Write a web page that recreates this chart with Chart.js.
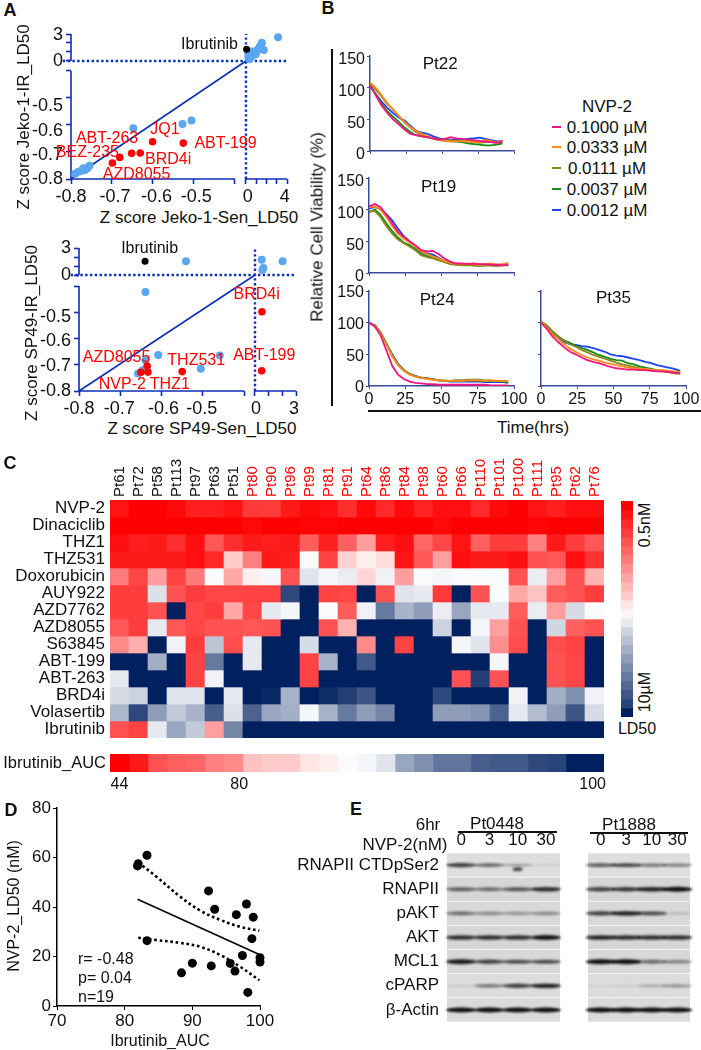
<!DOCTYPE html>
<html>
<head>
<meta charset="utf-8">
<script src="https://cdn.jsdelivr.net/npm/chart.js@4/dist/chart.umd.js"></script>
<style>
  html, body { margin: 0; background: #fff; }
  #page { position: relative; width: 701px; height: 1050px; overflow: hidden; font-family: "Liberation Sans", Arial, sans-serif; color: #111; }
  #page canvas { position: absolute; }
  .txt { position: absolute; white-space: nowrap; line-height: 1; }
  .rule { position: absolute; }
</style>
</head>
<body>
<div id="page"></div>
<script>
// Panel A, Jeko-1
const jekoBlueX = [3.13, 1.55, 1.74, 1.35, 1.03, 0.7, 0.45, 0.97, 0.55, 0.32, 0.23, 1.2, -0.648, -0.528, -0.506, -0.79, -0.782, -0.774, -0.766, -0.76, -0.755, -0.77];
const jekoBlueY = [2.63, 2.04, 1.22, 1.6, 1.04, 1.04, 1.04, 0.74, 0.48, 0.19, 0.67, 1.3, -0.612, -0.596, -0.583, -0.781, -0.773, -0.769, -0.767, -0.76, -0.751, -0.76];
const jekoRedX = [-0.699, -0.681, -0.652, -0.631, -0.601, -0.526];
const jekoRedY = [-0.741, -0.72, -0.705, -0.704, -0.662, -0.667];
const jekoBlackX = [0.06];
const jekoBlackY = [1.3];
const jekoLabels = [
  { text: "ABT-263", x: -0.712, y: -0.649, color: "#ff0000" },
  { text: "JQ1", x: -0.571, y: -0.616, color: "#ff0000" },
  { text: "ABT-199", x: -0.423, y: -0.67, color: "#ff0000" },
  { text: "BEZ-235", x: -0.76, y: -0.702, color: "#ff0000" },
  { text: "BRD4i", x: -0.563, y: -0.727, color: "#ff0000" },
  { text: "AZD8055", x: -0.64, y: -0.783, color: "#ff0000" },
  { text: "Ibrutinib", x: -0.462, y: 1.78, color: "#111" }
];

// Panel A, SP49
const spBlueX = [-0.541, 0.49, 2.02, 0.61, 0.54, -0.639, -0.608, -0.459, -0.639, -0.505, -0.657, -0.646];
const spBlueY = [1.52, 1.7, 1.52, 0.78, 0.56, -0.423, -0.663, -0.665, -0.683, -0.715, -0.733, -0.721];
const spRedX = [0.51, 0.49, -0.55, -0.65, -0.635, -0.633];
const spRedY = [-0.498, -0.723, -0.726, -0.729, -0.705, -0.728];
const spBlackX = [-0.64];
const spBlackY = [1.52];
const spLabels = [
  { text: "BRD4i", x: 0.12, y: -0.433, color: "#ff0000" },
  { text: "ABT-199", x: 0.68, y: -0.664, color: "#ff0000" },
  { text: "AZD8055", x: -0.709, y: -0.673, color: "#ff0000" },
  { text: "THZ531", x: -0.516, y: -0.683, color: "#ff0000" },
  { text: "NVP-2", x: -0.695, y: -0.775, color: "#ff0000" },
  { text: "THZ1", x: -0.58, y: -0.777, color: "#ff0000" },
  { text: "Ibrutinib", x: -0.629, y: 2.93, color: "#111" }
];

// Panel B
const hours = [0, 4, 8, 12, 16, 20, 24, 28, 32, 36, 40, 44, 48, 52, 56, 60, 64, 68, 72, 76, 80, 84, 88, 92, 96];
const doseNames = ["0.1000 µM", "0.0333 µM", "0.0111 µM", "0.0037 µM", "0.0012 µM"];
const doseColors = ["#f2157f", "#ff8a1c", "#87871a", "#168a1e", "#1a45f0"];
const pt22 = [
  [104, 88, 72, 60, 50, 42, 34, 27, 25, 23, 22, 20, 18, 19, 22, 20, 19, 18, 17, 16, 15, 14, 13, 15],
  [108, 100, 88, 76, 65, 56, 46, 38, 32, 27, 23, 20, 17, 16, 15, 15, 16, 15, 14, 14, 17, 16, 13, 17],
  [106, 97, 86, 74, 66, 55, 45, 37, 30, 25, 22, 19, 17, 16, 17, 16, 15, 15, 14, 13, 14, 14, 13, 16],
  [103, 90, 74, 63, 54, 46, 37, 30, 25, 23, 22, 20, 18, 17, 16, 15, 14, 12, 11, 10, 9, 9, 10, 12],
  [102, 90, 78, 68, 60, 53, 48, 40, 32, 29, 27, 23, 20, 18, 18, 18, 17, 19, 20, 21, 19, 17, 15, 16]
];
const pt19 = [
  [105, 109, 104, 92, 78, 65, 57, 50, 44, 36, 34, 35, 30, 23, 18, 15, 15, 14, 15, 14, 14, 13, 13, 12, 13],
  [104, 105, 100, 88, 74, 62, 54, 48, 42, 34, 30, 26, 23, 19, 16, 15, 14, 15, 14, 13, 14, 15, 13, 14, 16],
  [97, 98, 88, 74, 62, 53, 47, 42, 36, 28, 25, 23, 20, 17, 14, 13, 12, 12, 12, 11, 12, 12, 11, 12, 12],
  [96, 100, 92, 78, 66, 56, 48, 44, 38, 30, 27, 25, 22, 18, 15, 14, 13, 13, 12, 12, 12, 12, 12, 12, 13],
  [102, 104, 101, 93, 83, 70, 58, 50, 42, 33, 31, 29, 24, 19, 16, 14, 14, 14, 13, 13, 13, 13, 13, 13, 14]
];
const pt24 = [
  [100, 94, 80, 56, 32, 18, 11, 7, 5, 4, 3, 3, 2, 2, 2, 2, 2, 2, 2, 2, 2, 1, 1, 1, 1],
  [99, 95, 83, 65, 47, 33, 24, 18, 15, 13, 11, 10, 9, 8, 8, 8, 8, 9, 9, 9, 8, 9, 8, 8, 8],
  [99, 96, 84, 66, 48, 34, 25, 19, 15, 13, 12, 10, 9, 9, 8, 9, 9, 10, 10, 10, 9, 9, 8, 8, 7],
  [99, 96, 84, 67, 49, 34, 25, 19, 15, 13, 12, 11, 9, 8, 8, 9, 9, 9, 9, 8, 8, 8, 8, 7, 6],
  [100, 96, 85, 67, 50, 35, 25, 19, 16, 13, 12, 11, 9, 8, 7, 7, 7, 7, 7, 7, 6, 6, 6, 6, 5]
];
const pt35 = [
  [100, 90, 78, 69, 61, 54, 50, 45, 41, 38, 36, 33, 30, 28, 27, 26, 26, 25, 25, 24, 23, 23, 22, 21, 20],
  [102, 92, 82, 74, 66, 59, 54, 49, 45, 42, 40, 37, 35, 33, 31, 29, 28, 27, 27, 26, 25, 25, 24, 23, 22],
  [102, 96, 86, 78, 71, 66, 62, 57, 53, 49, 46, 43, 40, 37, 34, 32, 30, 28, 27, 26, 24, 23, 22, 20, 19],
  [101, 95, 86, 78, 72, 68, 63, 60, 57, 53, 49, 46, 43, 41, 40, 36, 34, 31, 29, 27, 25, 24, 23, 21, 20],
  [102, 93, 84, 76, 69, 66, 65, 63, 62, 60, 57, 54, 50, 48, 47, 45, 43, 41, 38, 36, 33, 31, 29, 27, 24]
];

// Panel C, level 0 = red, 50 = white, 100 = navy
const patients = ["Pt61", "Pt72", "Pt58", "Pt113", "Pt97", "Pt63", "Pt51", "Pt80", "Pt90", "Pt96", "Pt99", "Pt81", "Pt91", "Pt64", "Pt86", "Pt84", "Pt98", "Pt60", "Pt66", "Pt110", "Pt101", "Pt100", "Pt111", "Pt95", "Pt62", "Pt76"];
const blackPatients = 7;
const drugs = ["NVP-2", "Dinaciclib", "THZ1", "THZ531", "Doxorubicin", "AUY922", "AZD7762", "AZD8055", "S63845", "ABT-199", "ABT-263", "BRD4i", "Volasertib", "Ibrutinib"];
const nvp2 = [4, 0, 0, 2, 6, 6, 4, 11, 12, 5, 2, 3, 9, 2, 8, 2, 7, 3, 3, 8, 2, 0, 4, 6, 3, 3];
const dinaciclib = [0, 0, 0, 0, 0, 0, 0, 2, 0, 0, 1, 1, 0, 0, 0, 0, 0, 2, 0, 0, 0, 0, 1, 0, 0, 0];
const thz1 = [3, 6, 5, 9, 3, 17, 9, 5, 6, 5, 18, 6, 19, 31, 6, 3, 20, 14, 4, 19, 12, 12, 25, 5, 12, 17];
const thz531 = [5, 5, 5, 5, 3, 8, 40, 25, 5, 6, 49, 13, 41, 47, 43, 4, 17, 31, 3, 5, 5, 3, 16, 17, 3, 10];
const doxorubicin = [24, 14, 31, 13, 24, 51, 33, 47, 52, 16, 56, 52, 54, 42, 53, 31, 51, 52, 51, 51, 51, 16, 54, 31, 16, 35];
const auy922 = [12, 12, 57, 16, 12, 14, 14, 13, 13, 91, 100, 13, 14, 100, 16, 56, 55, 11, 100, 16, 51, 33, 38, 18, 16, 12];
const azd7762 = [12, 12, 16, 100, 14, 12, 33, 14, 55, 52, 100, 51, 18, 53, 80, 67, 72, 54, 70, 55, 55, 18, 54, 31, 58, 51];
const azd8055 = [17, 12, 55, 17, 14, 16, 16, 17, 16, 100, 100, 16, 35, 100, 100, 100, 100, 60, 100, 52, 31, 16, 100, 59, 19, 16];
const s63845 = [27, 34, 100, 53, 12, 63, 15, 55, 100, 100, 58, 100, 100, 27, 100, 13, 100, 100, 52, 56, 28, 15, 100, 15, 13, 100];
const abt199 = [100, 100, 68, 100, 13, 80, 100, 55, 100, 100, 13, 67, 100, 87, 100, 100, 100, 100, 100, 100, 52, 100, 100, 16, 14, 100];
const abt263 = [55, 100, 100, 100, 13, 53, 100, 100, 100, 100, 13, 100, 100, 100, 100, 100, 100, 100, 16, 93, 16, 100, 100, 16, 14, 100];
const brd4i = [58, 60, 100, 56, 56, 100, 55, 100, 98, 67, 100, 97, 93, 88, 100, 100, 100, 91, 100, 100, 100, 53, 100, 68, 75, 53];
const volasertib = [66, 91, 72, 62, 67, 86, 57, 85, 70, 68, 52, 67, 80, 72, 77, 100, 100, 72, 72, 74, 85, 55, 65, 72, 88, 58];
const ibrutinib = [16, 13, 55, 70, 62, 31, 77, 100, 100, 100, 100, 100, 100, 100, 100, 100, 100, 100, 100, 100, 100, 100, 100, 100, 100, 100];
const heatRows = [nvp2, dinaciclib, thz1, thz531, doxorubicin, auy922, azd7762, azd8055, s63845, abt199, abt263, brd4i, volasertib, ibrutinib];
const aucLevels = [0, 5, 16, 19, 20, 25, 27, 38, 40, 40, 45, 47, 51, 52, 56, 70, 75, 81, 81, 86, 87, 87, 91, 92, 100, 100];
const aucTickValues = [0.5, 6.8, 25.4];
const aucTickLabels = ["44", "80", "100"];
const colorbarLevels = [0, 4, 8, 12, 16, 20, 24, 28, 32, 36, 40, 45, 48, 55, 60, 64, 68, 72, 76, 80, 84, 88, 92, 100];

// Panel D
const auc = [81.9, 82, 83.3, 83.3, 88.4, 90, 92.4, 92.8, 93.3, 95.6, 96.3, 96.5, 97.4, 98, 98.2, 98.8, 99, 100, 100];
const ld50 = [56.6, 57.5, 60.9, 26.4, 13.4, 17.3, 46.5, 16.2, 39.1, 17.2, 14.1, 36.9, 20.4, 41.2, 5.5, 27.2, 35.9, 19.5, 17.8];
const fitX = [81.9, 99.9];
const fitY = [43.1, 20.8];
const bandX = [82, 84.8, 88.2, 91.2, 94.2, 97.1, 99.9];
const upperBand = [58, 52, 44.2, 38.5, 34.7, 32, 30.4];
const lowerBand = [27.6, 26.6, 25.5, 23.9, 20.5, 15.8, 10.4];

// Panel E, band strength 0 to 1
const blotRows = ["RNAPII CTDpSer2", "RNAPII", "pAKT", "AKT", "MCL1", "cPARP", "β-Actin"];
const lanes = ["0", "3", "10", "30"];
const pt0448Bands = [
  [0.75, 0.55, 0.3, 0.08],
  [0.6, 0.55, 0.65, 0.85],
  [0.55, 0.4, 0.35, 0.4],
  [0.85, 0.85, 0.85, 1],
  [0.95, 0.75, 0.7, 0.7],
  [0.1, 0.5, 0.75, 0.9],
  [1, 1, 1, 1]
];
const pt1888Bands = [
  [0.6, 0.7, 0.5, 0.45],
  [0.75, 0.8, 0.9, 1],
  [0.75, 0.9, 0.7, 0.15],
  [0.9, 0.85, 0.85, 0.85],
  [1, 1, 0.55, 0.45],
  [0.05, 0.06, 0.25, 0.35],
  [1, 1, 1, 1]
];
const pt0448Smudge = [null, null, 0.67, null];
const rowGrays = ["#dedede", "#d6d6d6", "#d8d8d8", "#d6d6d6", "#d8d8d8", "#dcdcdc", "#dadada"];

const page = document.getElementById("page");
const FONT = '"Liberation Sans", Arial, sans-serif';
const AXIS_BLUE = "#0d2fb8";
const B_AXIS = "#3a4a9a";
Chart.defaults.font.family = FONT;
Chart.defaults.color = "#111";
Chart.defaults.animation = false;
Chart.defaults.responsive = false;
Chart.defaults.maintainAspectRatio = false;
Chart.defaults.plugins.legend.display = false;
Chart.defaults.plugins.tooltip.enabled = false;

// Axis with a break in it: breaks.values map onto breaks.fractions of its length
class BrokenScale extends Chart.LinearScale {
  static id = "broken";
  static defaults = Chart.LinearScale.defaults;
  buildTicks() {
    this.start = this.min;
    this.end = this.max;
    return Array.from(this.options.tickValues).map(value => ({ value }));
  }
  getPixelForValue(v) {
    const vals = this.options.breaks.values, fr = this.options.breaks.fractions;
    let i = 0;
    while (i < vals.length - 2 && v > vals[i + 1]) i++;
    return this.getPixelForDecimal(fr[i] + (v - vals[i]) / (vals[i + 1] - vals[i]) * (fr[i + 1] - fr[i]));
  }
  // the tick labels sit slightly off their ticks in the figure
  _computeLabelItems(area) {
    const items = super._computeLabelItems(area);
    const shift = this.options.labelShift || {};
    const k = this.isHorizontal() ? 0 : 1;
    items.forEach(it => { it.options.translation[k] += shift[it.label] || 0; });
    return items;
  }
}
Chart.register(BrokenScale);

// Text placed at data coordinates
Chart.register({
  id: "valueLabels",
  afterDatasetsDraw(chart, args, opts) {
    if (!opts.items) return;
    const c = chart.ctx;
    c.save();
    c.font = opts.size + "px " + FONT;
    c.textBaseline = "middle";
    c.textAlign = opts.align || "center";
    for (const it of opts.items) {
      c.fillStyle = it.color || "#111";
      c.fillText(it.text, chart.scales.x.getPixelForValue(it.x), chart.scales.y.getPixelForValue(it.y));
    }
    c.restore();
  }
});

function canvasAt(x, y, w, h) {
  const cv = document.createElement("canvas");
  cv.width = w;
  cv.height = h;
  cv.style.left = x + "px";
  cv.style.top = y + "px";
  cv.style.width = w + "px";
  cv.style.height = h + "px";
  page.appendChild(cv);
  return cv;
}

function text(str, x, y, o = {}) {
  const d = document.createElement("div");
  d.className = "txt";
  d.textContent = str;
  d.style.left = x + "px";
  d.style.top = y + "px";
  d.style.fontSize = (o.size || 17) + "px";
  if (o.bold) d.style.fontWeight = "bold";
  d.style.transform = "translate(-50%,-50%)" + (o.rotate ? " rotate(" + o.rotate + "deg)" : "");
  page.appendChild(d);
}

function rule(x, y, w, h, color) {
  const d = document.createElement("div");
  d.className = "rule";
  d.style.cssText = "left:" + x + "px;top:" + y + "px;width:" + w + "px;height:" + h + "px;background:" + (color || "#111");
  page.appendChild(d);
}

// keeps an axis at a fixed thickness so the plot lands where it should
function fixedSize(size) {
  return s => {
    if (s.isHorizontal()) s.height = size; else s.width = size;
    s.paddingLeft = s.paddingRight = s.paddingTop = s.paddingBottom = 0;
  };
}

function zip(xs, ys) { return xs.map((x, i) => ({ x, y: ys[i] })); }

function levelColor(v) {
  if (v <= 50) {
    const g = Math.round(255 * v / 50);
    return "rgb(255," + g + "," + g + ")";
  }
  const t = (v - 50) / 50;
  return "rgb(" + Math.round(255 * (1 - t)) + "," + Math.round(255 - 223 * t) + "," + Math.round(255 - 160 * t) + ")";
}

// ---- Panel A ----
function zScorePlot(box, d) {
  const seg = (pts, width, dash) => ({ data: pts, showLine: true, pointRadius: 0, borderColor: AXIS_BLUE, borderWidth: width, borderDash: dash || [], clip: false });
  const dots = (xs, ys, color, r) => ({ data: zip(xs, ys), pointRadius: r, backgroundColor: color, borderWidth: 0, clip: false });
  return new Chart(canvasAt(box.x, box.y, box.w, box.h), {
    type: "scatter",
    data: {
      datasets: [
        dots(d.blackX, d.blackY, "#000", 3.5),
        dots(d.redX, d.redY, "#ff0000", 3.8),
        dots(d.blueX, d.blueY, "#5aa6f0", 4),
        seg([{ x: -0.8, y: -0.8 }, { x: 0, y: 0 }], 1.6),
        seg([{ x: -0.82, y: 0 }, { x: d.xMax, y: 0 }], 2.4, [2.4, 2.4]),
        seg([{ x: 0, y: -0.8 }, { x: 0, y: 3 }], 2.4, [2.4, 2.4]),
        seg([{ x: -0.8, y: -0.8 }, { x: -0.4, y: -0.8 }], 1.6),
        seg([{ x: 0, y: -0.8 }, { x: d.xMax, y: -0.8 }], 1.6),
        seg([{ x: -0.8, y: -0.8 }, { x: -0.8, y: -0.4 }], 1.6),
        seg([{ x: -0.8, y: 0 }, { x: -0.8, y: 3 }], 1.6)
      ]
    },
    options: {
      layout: { padding: { top: box.top, right: box.right } },
      plugins: { valueLabels: { items: d.labels, size: 16 } },
      scales: {
        x: {
          type: "broken", min: -0.8, max: d.xMax,
          breaks: { values: [-0.8, -0.4, 0, d.xMax], fractions: d.xFrac },
          tickValues: d.xTicks, labelShift: d.xShift,
          border: { display: false },
          grid: { drawOnChartArea: false, tickLength: 5, tickColor: AXIS_BLUE, tickWidth: 1.6 },
          ticks: { autoSkip: false, maxRotation: 0, padding: 2, font: { size: 18 }, callback: v => d.xLabels[d.xTicks.indexOf(v)] },
          afterFit: fixedSize(box.bottom)
        },
        y: {
          type: "broken", min: -0.8, max: 3,
          breaks: { values: [-0.8, -0.4, 0, 3], fractions: d.yFrac },
          tickValues: d.yTicks, labelShift: d.yShift,
          border: { display: false },
          grid: { drawOnChartArea: false, tickLength: 5, tickColor: AXIS_BLUE, tickWidth: 1.6 },
          ticks: { autoSkip: false, padding: 3, font: { size: 18 }, callback: v => d.yLabels[d.yTicks.indexOf(v)] },
          afterFit: fixedSize(box.left)
        }
      }
    }
  });
}

const yTicksA = [-0.8, -0.7, -0.6, -0.5, -0.4, 0, 1, 2, 3];
const yLabelsA = ["-0.8", "-0.7", "-0.6", "-0.5", "", "0", "", "", "3"];

zScorePlot({ x: 0, y: 20, w: 303, h: 183, left: 71, top: 14, right: 16, bottom: 24 }, {
  blueX: jekoBlueX, blueY: jekoBlueY, redX: jekoRedX, redY: jekoRedY, blackX: jekoBlackX, blackY: jekoBlackY,
  labels: jekoLabels, xMax: 4,
  xFrac: [0, 0.759, 0.81, 1], yFrac: [0, 0.745, 0.814, 1],
  xTicks: [-0.8, -0.7, -0.6, -0.5, -0.4, 0, 1, 2, 3, 4],
  xLabels: ["-0.8", "-0.7", "-0.6", "-0.5", "", "0", "", "", "", "4"],
  yTicks: yTicksA, yLabels: yLabelsA,
  xShift: { "-0.7": 3, "-0.6": 3.5, "-0.5": 2.3, "0": 1.7, "4": -2.3 },
  yShift: { "-0.5": 7.7, "-0.6": 5.7, "-0.7": 3, "3": 1 }
});

zScorePlot({ x: 0, y: 235, w: 312, h: 180, left: 79, top: 13, right: 16, bottom: 24 }, {
  blueX: spBlueX, blueY: spBlueY, redX: spRedX, redY: spRedY, blackX: spBlackX, blackY: spBlackY,
  labels: spLabels, xMax: 3,
  xFrac: [0, 0.761, 0.811, 1], yFrac: [0, 0.734, 0.811, 1],
  xTicks: [-0.8, -0.7, -0.6, -0.5, -0.4, 0, 1, 2, 3],
  xLabels: ["-0.8", "-0.7", "-0.6", "-0.5", "", "0", "", "", "3"],
  yTicks: yTicksA, yLabels: yLabelsA,
  xShift: { "-0.7": -1, "-0.6": 2, "-0.5": -1, "0": 1, "3": -2 },
  yShift: { "-0.5": 4.7, "-0.6": 3, "-0.7": 1 }
});

text("A", 10, 10, { bold: true, size: 18 });
text("Z score Jeko-1-IR_LD50", 23, 117, { rotate: -90 });
text("Z score Jeko-1-Sen_LD50", 199, 217);
text("Z score SP49-IR_LD50", 31, 333, { rotate: -90 });
text("Z score SP49-Sen_LD50", 202, 428);

// ---- Panel B ----
function viabilityPlot(box, series, title, opts) {
  return new Chart(canvasAt(box.x, box.y, box.w, box.h), {
    type: "line",
    data: {
      datasets: series.map((vals, i) => ({
        data: vals.map((v, k) => ({ x: hours[k], y: v })),
        borderColor: doseColors[i], borderWidth: 1.8, pointRadius: 0
      }))
    },
    options: {
      layout: { padding: { top: box.top, right: box.right } },
      plugins: { valueLabels: { items: [title], size: 17 } },
      scales: {
        x: {
          type: "linear", min: 0, max: 100,
          border: { color: B_AXIS, width: 1.5 },
          grid: { drawOnChartArea: false, tickLength: 3, tickColor: B_AXIS },
          ticks: { stepSize: 25, maxRotation: 0, padding: 1, font: { size: 16 }, display: !!opts.xLabels },
          afterFit: fixedSize(opts.xLabels ? 24 : 10)
        },
        y: {
          min: 0, max: 150,
          border: { color: B_AXIS, width: 1.5 },
          grid: { drawOnChartArea: false, tickLength: 3, tickColor: B_AXIS },
          ticks: { stepSize: 50, padding: 2, font: { size: 16 }, display: opts.yLabels, labelOffset: opts.nudge || 0 },
          afterFit: fixedSize(box.left)
        }
      }
    }
  });
}

viabilityPlot({ x: 335, y: 48, w: 195, h: 113, left: 35, top: 8, right: 16 }, pt22, { text: "Pt22", x: 48.7, y: 137 }, { yLabels: true, nudge: 4 });
viabilityPlot({ x: 335, y: 170, w: 195, h: 113, left: 34, top: 8, right: 16 }, pt19, { text: "Pt19", x: 48, y: 135 }, { yLabels: true, nudge: 4 });
viabilityPlot({ x: 335, y: 283, w: 195, h: 127, left: 34, top: 8, right: 16 }, pt24, { text: "Pt24", x: 47, y: 136 }, { yLabels: true, xLabels: true, nudge: 2 });
viabilityPlot({ x: 532, y: 283, w: 169, h: 127, left: 9, top: 8, right: 15 }, pt35, { text: "Pt35", x: 50, y: 138 }, { yLabels: false, xLabels: true });

rule(331, 49, 2, 357);
rule(368, 410, 333, 2);
text("B", 328, 8, { bold: true, size: 18 });
text("Relative Cell Viability (%)", 317, 227, { rotate: -90 });
text("Time(hrs)", 533, 427);
text("NVP-2", 607, 106);
doseNames.forEach((name, i) => {
  const y = [127, 147, 168, 189, 210][i];
  rule(552, y - 1, 9, 2, doseColors[i]);
  text(name, 607, y);
});

// ---- Panel C ----
new Chart(canvasAt(0, 455, 604, 283), {
  type: "bar",
  data: {
    labels: patients,
    datasets: heatRows.map((row, i) => ({
      label: drugs[i],
      data: row.map(() => 1),
      backgroundColor: row.map(levelColor),
      barPercentage: 1, categoryPercentage: 1, borderWidth: 0
    }))
  },
  options: {
    scales: {
      x: {
        stacked: true, position: "top",
        border: { display: false }, grid: { display: false, drawTicks: false },
        ticks: {
          autoSkip: false, minRotation: 90, maxRotation: 90, padding: 3, labelOffset: 18, font: { size: 15 },
          color: ctx => ctx.index < blackPatients ? "#111" : "#ff0000"
        },
        afterFit: fixedSize(45)
      },
      y: {
        stacked: true, reverse: true, min: 0, max: drugs.length,
        border: { display: false }, grid: { display: false, drawTicks: false },
        afterBuildTicks: s => { s.ticks = drugs.map((_, i) => ({ value: i + 0.5 })); },
        ticks: { autoSkip: false, padding: 5, font: { size: 17 }, callback: v => drugs[v - 0.5] },
        afterFit: fixedSize(110)
      }
    }
  }
});

new Chart(canvasAt(0, 754, 616, 42), {
  type: "bar",
  data: {
    labels: ["Ibrutinib_AUC"],
    datasets: aucLevels.map(v => ({
      data: [1], backgroundColor: levelColor(v), barPercentage: 1, categoryPercentage: 1, borderWidth: 0
    }))
  },
  options: {
    indexAxis: "y",
    layout: { padding: { right: 12 } },
    scales: {
      x: {
        stacked: true, min: 0, max: aucLevels.length,
        border: { display: false }, grid: { display: false, drawTicks: false },
        afterBuildTicks: s => { s.ticks = aucTickValues.map(value => ({ value })); },
        ticks: { autoSkip: false, maxRotation: 0, padding: 3, font: { size: 16 }, callback: v => aucTickLabels[aucTickValues.indexOf(v)] },
        afterFit: fixedSize(24)
      },
      y: {
        stacked: true,
        border: { display: false }, grid: { display: false, drawTicks: false },
        ticks: { padding: 4, font: { size: 16.5 } },
        afterFit: fixedSize(110)
      }
    }
  }
});

new Chart(canvasAt(621, 501, 12, 216), {
  type: "bar",
  data: {
    labels: ["LD50"],
    datasets: colorbarLevels.map(v => ({
      data: [1], backgroundColor: levelColor(v), barPercentage: 1, categoryPercentage: 1, borderWidth: 0
    }))
  },
  options: {
    scales: {
      x: { display: false, stacked: true },
      y: { display: false, stacked: true, reverse: true, min: 0, max: colorbarLevels.length }
    }
  }
});

text("C", 10, 463, { bold: true, size: 18 });
text("0.5nM", 645, 525, { rotate: -90, size: 16 });
text("10µM", 645, 692, { rotate: -90, size: 16 });
text("LD50", 637, 729, { size: 16 });

// ---- Panel D ----
new Chart(canvasAt(0, 795, 276, 235), {
  type: "scatter",
  data: {
    datasets: [
      { data: zip(auc, ld50), pointRadius: 4.5, backgroundColor: "#000", borderWidth: 0, clip: false },
      { data: zip(fitX, fitY), showLine: true, pointRadius: 0, borderColor: "#000", borderWidth: 1.6 },
      { data: zip(bandX, upperBand), showLine: true, pointRadius: 0, borderColor: "#000", borderWidth: 2.6, borderDash: [2.6, 2.8], tension: 0.4 },
      { data: zip(bandX, lowerBand), showLine: true, pointRadius: 0, borderColor: "#000", borderWidth: 2.6, borderDash: [2.6, 2.8], tension: 0.4 }
    ]
  },
  options: {
    layout: { padding: { top: 13, right: 16 } },
    plugins: {
      valueLabels: {
        size: 16, align: "left",
        items: [
          { text: "r= -0.48", x: 73.1, y: 18.9 },
          { text: "p= 0.04", x: 73.1, y: 11.1 },
          { text: "n=19", x: 73.1, y: 3.4 }
        ]
      }
    },
    scales: {
      x: {
        min: 70, max: 100,
        border: { color: "#000", width: 1.5 },
        grid: { drawOnChartArea: false, tickLength: 4, tickColor: "#000" },
        ticks: { stepSize: 10, maxRotation: 0, padding: 1, font: { size: 17 } },
        afterFit: fixedSize(24)
      },
      y: {
        min: 0, max: 80,
        border: { color: "#000", width: 1.5 },
        grid: { drawOnChartArea: false, tickLength: 4, tickColor: "#000" },
        ticks: { stepSize: 20, padding: 2, font: { size: 17 } },
        afterFit: fixedSize(57)
      }
    }
  }
});
text("D", 11, 810, { bold: true, size: 18 });
text("NVP-2_LD50 (nM)", 14, 906, { rotate: -90, size: 16 });
text("Ibrutinib_AUC", 160, 1041, { size: 16 });

// ---- Panel E ----
function bandSprite(strength, wide) {
  const cv = document.createElement("canvas");
  cv.width = 36;
  cv.height = 16;
  const c = cv.getContext("2d");
  c.filter = "blur(1px)";
  c.fillStyle = "rgba(15,15,15," + strength + ")";
  c.beginPath();
  c.ellipse(18, 8, wide, 1.2 + 1.3 * strength, 0, 0, Math.PI * 2);
  c.fill();
  return cv;
}

function blot(box, bands, withRowLabels, smudge) {
  const datasets = [];
  bands.forEach((row, r) => {
    datasets.push({
      type: "line", order: 0, showLine: false,
      data: lanes.map(() => r + 0.5),
      pointStyle: row.map(s => bandSprite(s, 15)),
      pointRadius: 10
    });
    datasets.push({
      type: "bar", order: 1, grouped: false,
      data: lanes.map(() => [r + 0.03, r + 0.97]),
      backgroundColor: rowGrays[r], barPercentage: 1, categoryPercentage: 1, borderWidth: 0
    });
  });
  if (smudge) {
    datasets.push({ type: "line", order: 0, showLine: false, data: smudge, pointStyle: bandSprite(0.7, 5), pointRadius: 10 });
  }
  return new Chart(canvasAt(box.x, box.y, box.w, box.h), {
    data: { labels: lanes, datasets },
    options: {
      scales: {
        x: {
          position: "top",
          border: { display: false }, grid: { display: false, drawTicks: false },
          ticks: { maxRotation: 0, autoSkip: false, padding: 2, font: { size: 17 } },
          afterFit: fixedSize(28)
        },
        y: {
          display: withRowLabels,
          reverse: true, min: 0, max: blotRows.length,
          border: { display: false }, grid: { display: false, drawTicks: false },
          afterBuildTicks: s => { s.ticks = blotRows.map((_, i) => ({ value: i + 0.5 })); },
          ticks: { autoSkip: false, padding: 8, font: { size: 17 }, callback: v => blotRows[v - 0.5] },
          afterFit: fixedSize(box.left)
        }
      }
    }
  });
}

blot({ x: 290, y: 825, w: 281, h: 208, left: 157 }, pt0448Bands, true, pt0448Smudge);
blot({ x: 577, y: 825, w: 124, h: 208, left: 0 }, pt1888Bands, false);

text("E", 356, 809, { bold: true, size: 18 });
text("6hr", 428, 824);
text("NVP-2(nM)", 405, 844);
text("Pt0448", 497, 823);
text("Pt1888", 629, 824);
rule(458, 831, 99, 1.5);
rule(590, 832, 98, 1.5);
</script>
</body>
</html>
